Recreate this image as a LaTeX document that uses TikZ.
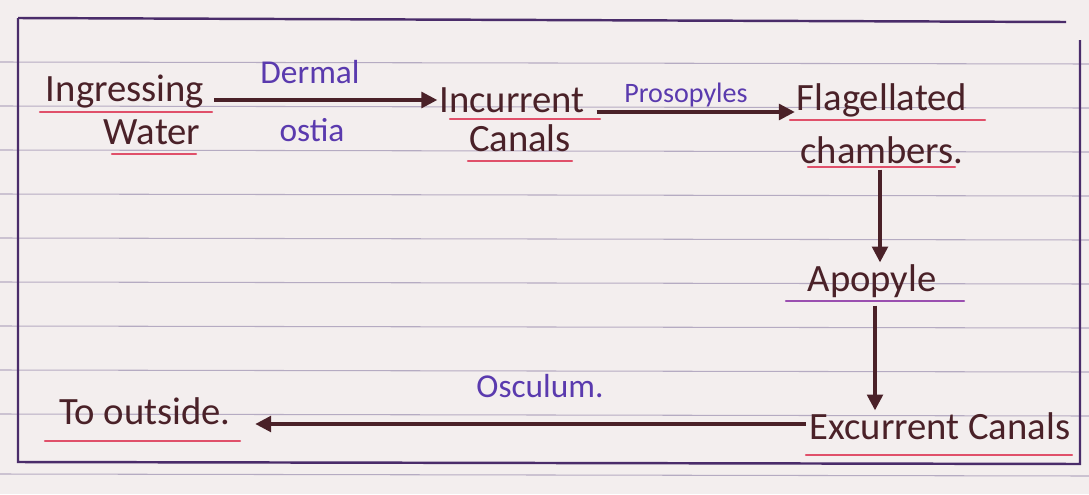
\documentclass[tikz,border=0pt]{standalone}
\usepackage{fontspec}
\setmainfont{Carlito}
\usetikzlibrary{arrows.meta}
\definecolor{paper}{HTML}{F3EEEE}
\definecolor{rule}{HTML}{9C8FB0}
\definecolor{frame}{HTML}{4A2C6A}
\definecolor{ink}{HTML}{4A2128}
\definecolor{lbl}{HTML}{5A3AAE}
\definecolor{uline}{HTML}{E0506A}
\definecolor{ulinep}{HTML}{9A4FB0}
\tikzset{
  term/.style={text=ink, font=\fontsize{22}{25}\selectfont, inner sep=1pt},
  lab/.style={text=lbl, font=\fontsize{19}{22}\selectfont, inner sep=1pt},
  flow/.style={draw=ink, line width=1.8pt, -{Triangle[length=9pt,width=9pt]}},
  under/.style={draw=uline, line width=1.4pt, line cap=round},
  ruled/.style={draw=rule, line width=0.6pt, opacity=0.7},
  frameline/.style={draw=frame, line width=1.4pt}
}
\begin{document}
\begin{tikzpicture}[x=0.02cm,y=-0.02cm]
\useasboundingbox (0,0) rectangle (1089,494);
\fill[paper] (0,0) rectangle (1089,494);
% ruled lines
\foreach \yy in {62,106,150,194,238,282,326,370,414,474}
  \draw[ruled] (0,\yy) -- (1089,\yy+2);
% frame
\draw[frameline] (18,18) -- (1066,22);
\draw[frameline] (18,18) -- (18,462) -- (1080,464) -- (1080,40);
% terms
\node[term] (ing) at (125,92) {Ingressing};
\node[term] (wat) at (152,132) {Water};
\node[term] (inc) at (512,100) {Incurrent};
\node[term] (can) at (520,138) {Canals};
\node[term] (fla) at (882,100) {Flagellated};
\node[term] (cha) at (882,150) {chambers.};
\node[term] (apo) at (872,281) {Apopyle};
\node[term] (exc) at (940,426) {Excurrent Canals};
\node[term] (out) at (145,411) {To outside.};
% labels
\node[lab] (der) at (310,72) {Dermal};
\node[lab] (ost) at (312,130) {ostia};
\node[lab, font=\fontsize{16}{19}\selectfont] (pro) at (686,95) {Prosopyles};
\node[lab] (osc) at (540,386) {Osculum.};
% arrows
\draw[flow] (ing.east |- 0,100) ++(8,0) coordinate (a1) -- (inc.west |- a1);
\draw[flow] (inc.east |- 0,112) ++(10,0) coordinate (a2) -- (fla.west |- a2);
\draw[flow] (cha.south) ++(-2,4) coordinate (a3) -- (apo.north -| a3);
\draw[flow] (apo.south) ++(3,6) coordinate (a4) -- (exc.north -| a4);
\draw[flow, shorten >=0.45cm] (exc.west) ++(-2,-2) coordinate (a5) -- (out.east |- a5);
% underlines
\draw[under] (40,112) -- (212,112);
\draw[under] (112,154) -- (196,154);
\draw[under] (450,119) -- (600,119);
\draw[under] (468,161) -- (572,161);
\draw[under] (790,120) -- (985,120);
\draw[under] (808,167) -- (955,167);
\draw[under, draw=ulinep] (786,301) -- (964,301);
\draw[under] (806,455) -- (1072,455);
\draw[under] (45,441) -- (240,441);
\end{tikzpicture}
\end{document}
